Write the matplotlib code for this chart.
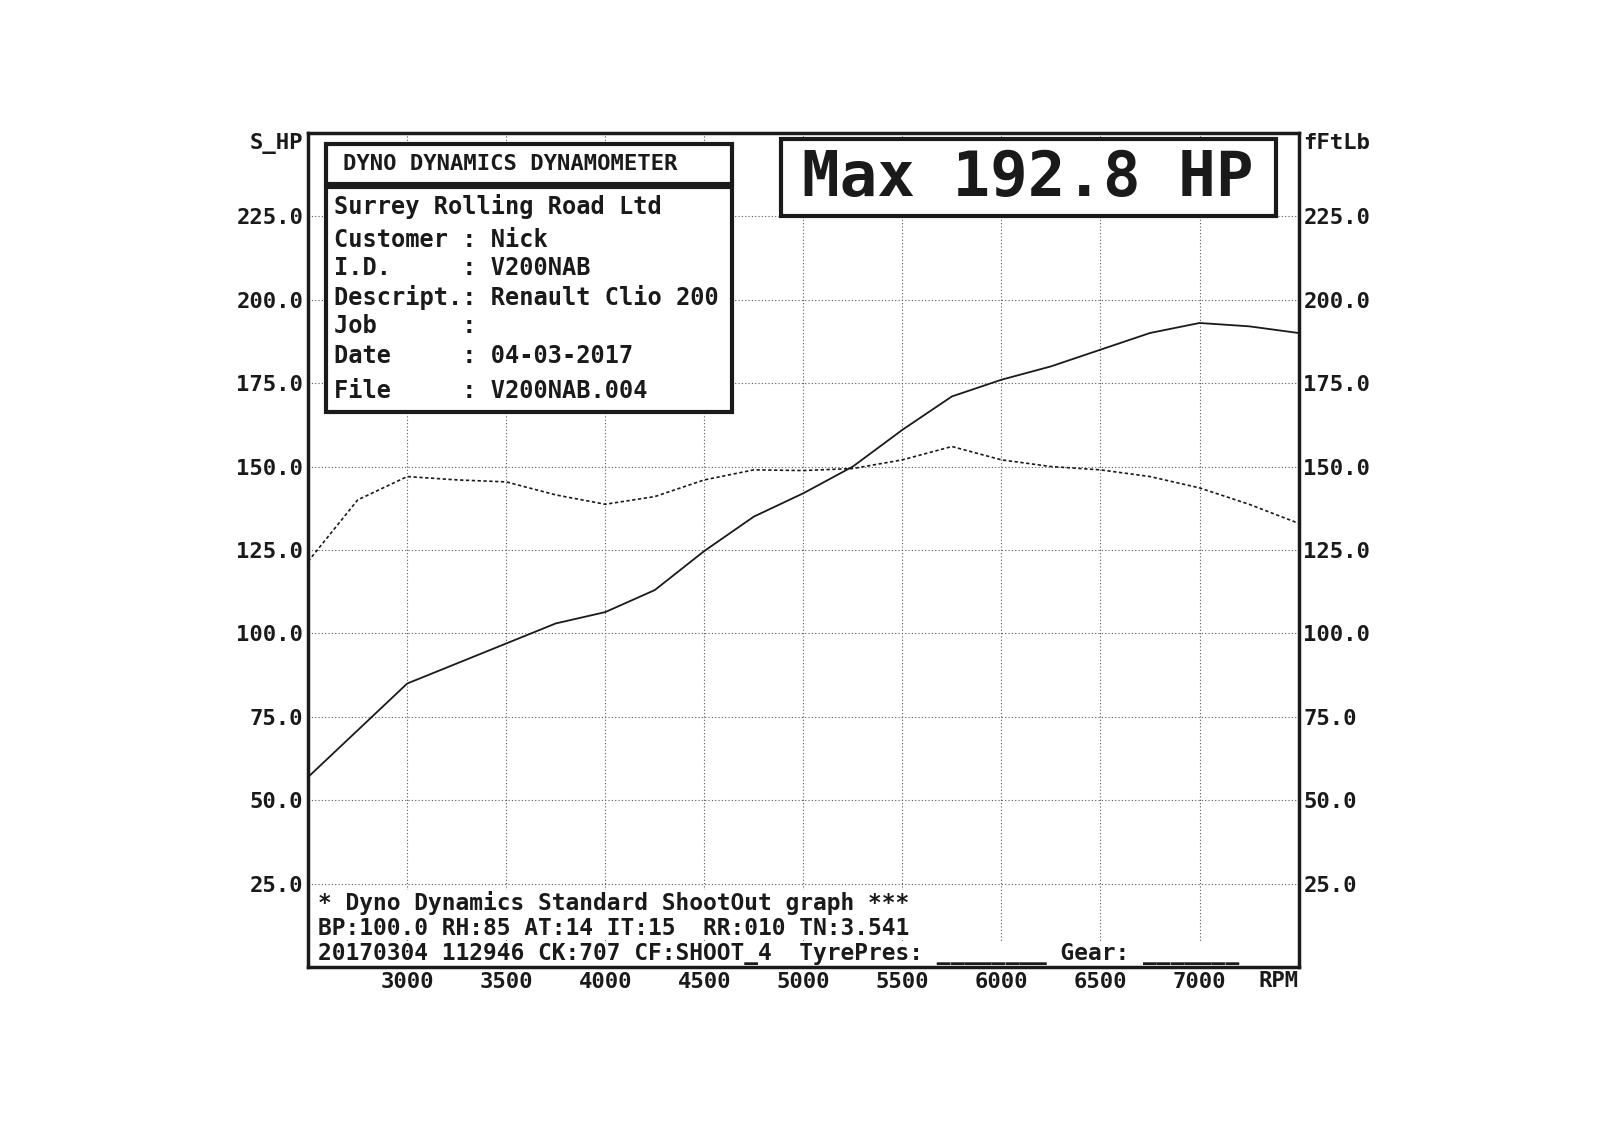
import matplotlib.pyplot as plt
from matplotlib.patches import Rectangle

rpm = [2500, 2750, 3000, 3250, 3500, 3750, 4000, 4250, 4500, 4750, 5000,
       5250, 5500, 5750, 6000, 6250, 6500, 6750, 7000, 7250, 7500]
power = [57, 71, 85, 91, 97, 103, 106.4, 113, 124.7, 135, 142,
         150, 161, 171, 176, 180, 185, 190, 193, 192, 190]
torque = [121.6, 140, 147, 146, 145.4, 141.5, 138.7, 141, 146, 149, 148.8,
          149.4, 152, 156, 152, 150, 149, 147, 143.6, 138.7, 133]
yticks = [25, 50, 75, 100, 125, 150, 175, 200, 225]
xticks = [3000, 3500, 4000, 4500, 5000, 5500, 6000, 6500, 7000]

mono = 'DejaVu Sans Mono'
ink = '#1a1a1a'
fig = plt.figure(figsize=(16, 11.38), dpi=100)
ax = fig.add_axes([0.1926, 0.150, 0.619, 0.7334])
ax.set_xlim(2500, 7500)
ax.set_ylim(0, 250)
ax.set_xticks(xticks)
ax.set_yticks(yticks)
ax.grid(True, color='#555555', linestyle=(0, (1, 2)), linewidth=0.8)
for s in ax.spines.values():
    s.set_linewidth(2.5)
    s.set_color(ink)
ax.tick_params(length=0, labelsize=16, labelcolor=ink)
ax.set_xticklabels([str(v) for v in xticks], family=mono, weight='bold')
ax.set_yticklabels(['%.1f' % v for v in yticks], family=mono, weight='bold')
ax2 = ax.twinx()
ax2.set_ylim(0, 250)
ax2.set_yticks(yticks)
ax2.set_yticklabels(['%.1f' % v for v in yticks], family=mono, weight='bold')
ax2.tick_params(length=0, labelsize=16, labelcolor=ink)
for s in ax2.spines.values():
    s.set_visible(False)

ax.plot(rpm, power, color=ink, linewidth=1.3)
ax.plot(rpm, torque, color=ink, linewidth=1.2, linestyle=(0, (2, 1.5)))

tk = dict(family=mono, weight='bold', color=ink)
ax.text(-0.005, 1.0, 'S_HP', transform=ax.transAxes, ha='right', va='top', fontsize=16, **tk)
ax.text(1.005, 1.0, 'fFtLb', transform=ax.transAxes, ha='left', va='top', fontsize=16, **tk)
ax.text(1.0, -0.016, 'RPM', transform=ax.transAxes, ha='right', va='center', fontsize=16, **tk)

# header boxes
ax.add_patch(Rectangle((0.018, 0.938), 0.41, 0.048, transform=ax.transAxes,
                       fill=True, fc='white', ec=ink, lw=3, zorder=5))
ax.text(0.035, 0.962, 'DYNO DYNAMICS DYNAMOMETER', transform=ax.transAxes,
        va='center', fontsize=16, zorder=6, **tk)
ax.add_patch(Rectangle((0.018, 0.665), 0.41, 0.27, transform=ax.transAxes,
                       fill=True, fc='white', ec=ink, lw=3, zorder=5))
lines = ['Surrey Rolling Road Ltd', 'Customer : Nick', 'I.D.     : V200NAB',
         'Descript.: Renault Clio 200', 'Job      :', 'Date     : 04-03-2017',
         'File     : V200NAB.004']
ys = [0.911, 0.872, 0.838, 0.802, 0.768, 0.733, 0.691]
for t, yy in zip(lines, ys):
    ax.text(0.026, yy, t, transform=ax.transAxes, va='center', fontsize=17, zorder=6, **tk)
ax.add_patch(Rectangle((0.477, 0.9), 0.5, 0.093, transform=ax.transAxes,
                       fill=True, fc='white', ec=ink, lw=3, zorder=5))
ax.text(0.727, 0.945, 'Max 192.8 HP', transform=ax.transAxes, ha='center',
        va='center', fontsize=45, zorder=6, **tk)

foot = ['* Dyno Dynamics Standard ShootOut graph ***',
        'BP:100.0 RH:85 AT:14 IT:15  RR:010 TN:3.541',
        '20170304 112946 CK:707 CF:SHOOT_4  TyrePres: ________ Gear: _______']
for t, yy in zip(foot, [0.077, 0.047, 0.017]):
    ax.text(0.01, yy, t, transform=ax.transAxes, va='center', fontsize=16.5,
            zorder=6, bbox=dict(fc='white', ec='none', pad=0.5), **tk)

fig.savefig('out.png', dpi=100, facecolor='white')
